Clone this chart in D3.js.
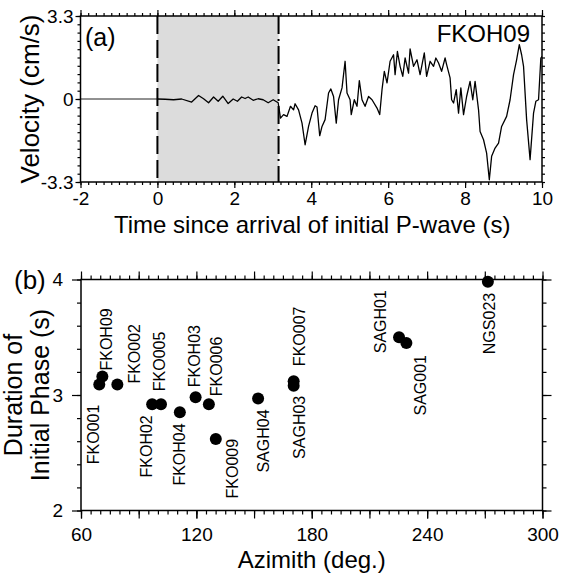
<!DOCTYPE html>
<html>
<head>
<meta charset="utf-8">
<script src="https://cdn.jsdelivr.net/npm/d3@7"></script>
<style>
  body { margin: 0; background: #fff; }
  svg { display: block; font-family: "Liberation Sans", Arial, Helvetica, sans-serif; }
</style>
</head>
<body>
<svg id="chart" width="570" height="576"></svg>
<script>
// ---- panel (a): velocity record ----
const timeS = [-2, 0, 0.2, 0.42, 0.63, 0.89, 1.07, 1.2, 1.33, 1.46, 1.58, 1.7, 1.84, 1.97, 2.08, 2.19, 2.28, 2.36, 2.49, 2.62, 2.75, 2.88, 3.01, 3.14,
  3.2, 3.28, 3.37, 3.46, 3.54, 3.58, 3.67, 3.76, 3.84, 3.93, 4.02, 4.1, 4.15, 4.22, 4.28, 4.36, 4.45, 4.51, 4.58, 4.65, 4.71, 4.8, 4.88, 4.93,
  5.01, 5.04, 5.12, 5.19, 5.25, 5.32, 5.4, 5.49, 5.58, 5.71, 5.78, 5.84, 5.9, 5.97, 6.05, 6.14, 6.18, 6.24, 6.31, 6.38, 6.44, 6.53, 6.57, 6.66,
  6.75, 6.83, 6.94, 7.0, 7.09, 7.18, 7.24, 7.31, 7.39, 7.48, 7.52, 7.61, 7.65, 7.7, 7.77, 7.83, 7.89, 7.96, 8.04, 8.13, 8.2, 8.26, 8.35, 8.39,
  8.48, 8.56, 8.63, 8.69, 8.78, 8.87, 8.95, 9.08, 9.17, 9.26, 9.34, 9.41, 9.47, 9.52, 9.6, 9.69, 9.78, 9.84, 9.91, 9.97, 10.0];
const velocity = [0, 0, -0.01, -0.03, 0.0, -0.12, 0.14, 0.01, -0.15, 0.08, -0.09, 0.11, -0.18, 0.0, -0.09, 0.08, 0.02, 0.08, -0.05, 0.01, -0.03, -0.15, -0.03, -0.15,
  -0.76, -0.62, -0.69, -0.29, -0.43, -0.19, -0.43, -0.96, -1.82, -1.09, -0.56, -0.27, -0.32, -1.46, -1.09, -0.82, 0.24, 0.4, 0.1, -0.96, -0.03, 0.44, 1.5, 0.24,
  -0.03, -0.62, -0.03, -0.29, 0.73, -0.03, -0.29, 0.1, -0.03, -0.36, -0.62, 0.37, 1.1, 0.64, 1.5, 1.76, 0.97, 1.89, 1.3, 0.9, 1.63, 1.03, 1.99, 1.3,
  1.56, 0.97, 1.83, 0.9, 1.5, 1.3, 1.63, 1.43, 1.1, 1.63, 1.37, 0.84, -0.03, -0.16, 0.37, -0.56, 0.44, -0.62, 0.1, 0.7, -0.03, 0.7, -0.43, -1.29,
  -1.62, -2.15, -3.21, -2.28, -1.95, -1.75, -1.09, -0.69, -0.03, 0.97, 1.56, 2.16, 1.76, 1.3, -0.82, -2.41, -0.56, -0.09, -0.03, 1.63, 1.7];
const phaseWindow = [0, 3.15];
const recordStation = "FKOH09";
const timeTicks = [-2, 0, 2, 4, 6, 8, 10];
const velTicks = [-3.3, 0, 3.3];

// ---- panel (b): initial phase duration vs azimuth ----
const stations = ["FKO001", "FKOH09", "FKO002", "FKOH02", "FKO005", "FKOH04", "FKOH03", "FKO006", "FKO009",
  "SAGH04", "SAGH03", "FKO007", "SAGH01", "SAG001", "NGS023"];
const azimuth = [69.5, 71.1, 78.9, 97.0, 101.6, 111.4, 119.6, 126.5, 130.1, 152.1, 170.6, 170.6, 225.4, 229.2, 271.6];
const duration = [3.09, 3.16, 3.09, 2.92, 2.92, 2.85, 2.98, 2.92, 2.62, 2.97, 3.08, 3.12, 3.50, 3.45, 3.98];
const azTicks = [60, 120, 180, 240, 300];
const durTicks = [2, 3, 4];

// label placement next to each dot: [dx, dy, anchor]
const labelPos = [[0, 20, "end"], [10, -6, "start"], [23, -1, "start"], [0, 11, "end"], [4, -13, "start"],
  [5, 11, "end"], [4, -10, "start"], [13, -8, "start"], [22, 0, "end"], [11, 11, "end"],
  [11, 10, "end"], [11, -15, "start"], [-13, 16, "start"], [20, 12, "end"], [7, 11, "end"]];

const svg = d3.select("#chart");
const font = 19;
const plain = d => String(d); // keep ASCII hyphen for negatives, as in the figure

function drawAxis(g, axisFn, scale, values, size, pad, withLabels) {
  g.call(axisFn(scale).tickValues(values).tickSize(size).tickSizeOuter(0).tickPadding(pad)
    .tickFormat(withLabels ? plain : ""));
  g.select(".domain").remove();
  g.selectAll("line").attr("stroke", "#000").attr("stroke-width", 1.2);
  g.selectAll("text").attr("font-size", font).attr("fill", "#000")
    .attr("font-family", "Liberation Sans, Arial, sans-serif");
}

function range(a, b, step) {
  const out = [];
  const n = Math.round((b - a) / step);
  for (let i = 0; i <= n; i++) out.push(+(a + i * step).toFixed(4));
  return out;
}

// ================= PANEL (a) =================
const A = { left: 80.5, right: 542, top: 16, bottom: 182 };
const xa = d3.scaleLinear().domain([-2, 10]).range([A.left, A.right]);
const ya = d3.scaleLinear().domain([-3.3, 3.3]).range([A.bottom, A.top]);

const ga = svg.append("g");
ga.append("defs").append("clipPath").attr("id", "clipA")
  .append("rect").attr("x", A.left).attr("y", A.top)
  .attr("width", A.right - A.left).attr("height", A.bottom - A.top);

ga.append("rect")
  .attr("x", xa(phaseWindow[0])).attr("y", A.top)
  .attr("width", xa(phaseWindow[1]) - xa(phaseWindow[0])).attr("height", A.bottom - A.top)
  .attr("fill", "#dcdcdc");

const trace = timeS.map((t, i) => [t, velocity[i]]);
const line = d3.line().x(d => xa(d[0])).y(d => ya(d[1]));
// pre-arrival part drawn thinner, as in the figure
ga.append("path")
  .datum(trace.filter(d => d[0] <= 0))
  .attr("fill", "none").attr("stroke", "#222").attr("stroke-width", 1)
  .attr("d", line);
ga.append("path")
  .datum(trace.filter(d => d[0] >= 0))
  .attr("clip-path", "url(#clipA)")
  .attr("fill", "none").attr("stroke", "#000").attr("stroke-width", 1.3)
  .attr("stroke-linejoin", "round")
  .attr("d", line);

ga.selectAll("line.win")
  .data(phaseWindow)
  .join("line")
  .attr("class", "win")
  .attr("x1", d => xa(d)).attr("x2", d => xa(d))
  .attr("y1", A.top).attr("y2", A.bottom)
  .attr("stroke", "#000").attr("stroke-width", 2)
  .attr("stroke-dasharray", (d, i) => i === 0 ? "18,6" : "18,5,2,5");

const minorT = range(-2, 10, 0.2), minorV = range(-3.3, 3.3, 0.33);
drawAxis(ga.append("g").attr("transform", `translate(0,${A.bottom})`), d3.axisBottom, xa, minorT, 3, 0, false);
drawAxis(ga.append("g").attr("transform", `translate(0,${A.bottom})`), d3.axisBottom, xa, timeTicks, 6, 4, true);
drawAxis(ga.append("g").attr("transform", `translate(0,${A.top})`), d3.axisTop, xa, minorT, 3, 0, false);
drawAxis(ga.append("g").attr("transform", `translate(0,${A.top})`), d3.axisTop, xa, timeTicks, 6, 0, false);
drawAxis(ga.append("g").attr("transform", `translate(${A.left},0)`), d3.axisLeft, ya, minorV, 3, 0, false);
drawAxis(ga.append("g").attr("transform", `translate(${A.left},0)`), d3.axisLeft, ya, velTicks, 5, 2, true);
drawAxis(ga.append("g").attr("transform", `translate(${A.right},0)`), d3.axisRight, ya, minorV, 3, 0, false);

ga.append("rect")
  .attr("x", A.left).attr("y", A.top)
  .attr("width", A.right - A.left).attr("height", A.bottom - A.top)
  .attr("fill", "none").attr("stroke", "#000").attr("stroke-width", 1.5);

ga.append("text").attr("x", 85).attr("y", 46).attr("font-size", 25).text("(a)");
ga.append("text").attr("x", 530).attr("y", 42).attr("font-size", 24)
  .attr("text-anchor", "end").text(recordStation);
ga.append("text")
  .attr("transform", `translate(39,${(A.top + A.bottom) / 2}) rotate(-90)`)
  .attr("text-anchor", "middle").attr("font-size", 26).text("Velocity (cm/s)");
ga.append("text").attr("x", (A.left + A.right) / 2 + 1).attr("y", 233)
  .attr("text-anchor", "middle").attr("font-size", 24)
  .text("Time since arrival of initial P-wave (s)");

// ================= PANEL (b) =================
const B = { left: 81, right: 542.5, top: 279.5, bottom: 510.5 };
const xb = d3.scaleLinear().domain([60, 300]).range([B.left, B.right]);
const yb = d3.scaleLinear().domain([2, 4]).range([B.bottom, B.top]);

const gb = svg.append("g");
const minorAz = range(60, 300, 5), midAz = range(60, 300, 30), minorD = range(2, 4, 0.2);
drawAxis(gb.append("g").attr("transform", `translate(0,${B.bottom})`), d3.axisBottom, xb, minorAz, 4, 0, false);
drawAxis(gb.append("g").attr("transform", `translate(0,${B.bottom})`), d3.axisBottom, xb, midAz, 8, 0, false);
drawAxis(gb.append("g").attr("transform", `translate(0,${B.bottom})`), d3.axisBottom, xb, azTicks, 8, 9, true);
drawAxis(gb.append("g").attr("transform", `translate(0,${B.top})`), d3.axisTop, xb, minorAz, 4, 0, false);
drawAxis(gb.append("g").attr("transform", `translate(0,${B.top})`), d3.axisTop, xb, midAz, 8, 0, false);
drawAxis(gb.append("g").attr("transform", `translate(${B.left},0)`), d3.axisLeft, yb, minorD, 4, 0, false);
drawAxis(gb.append("g").attr("transform", `translate(${B.left},0)`), d3.axisLeft, yb, durTicks, 9, 9, true);
drawAxis(gb.append("g").attr("transform", `translate(${B.right},0)`), d3.axisRight, yb, minorD, 4, 0, false);
drawAxis(gb.append("g").attr("transform", `translate(${B.right},0)`), d3.axisRight, yb, durTicks, 9, 0, false);

gb.append("rect")
  .attr("x", B.left).attr("y", B.top)
  .attr("width", B.right - B.left).attr("height", B.bottom - B.top)
  .attr("fill", "none").attr("stroke", "#000").attr("stroke-width", 1.5);

const pts = stations.map((s, i) => ({ name: s, az: azimuth[i], dur: duration[i], lp: labelPos[i] }));

gb.selectAll("circle.st")
  .data(pts)
  .join("circle")
  .attr("class", "st")
  .attr("cx", d => xb(d.az)).attr("cy", d => yb(d.dur))
  .attr("r", 6).attr("fill", "#000");

gb.selectAll("text.st")
  .data(pts)
  .join("text")
  .attr("class", "st")
  .attr("transform", d => `translate(${xb(d.az) + d.lp[0]},${yb(d.dur) + d.lp[1]}) rotate(-90)`)
  .attr("text-anchor", d => d.lp[2])
  .attr("font-size", 16)
  .text(d => d.name);

gb.append("text").attr("x", 14).attr("y", 289).attr("font-size", 26).text("(b)");
const yTitle = gb.append("text")
  .attr("transform", `translate(0,${(B.top + B.bottom) / 2}) rotate(-90)`)
  .attr("text-anchor", "middle").attr("font-size", 25);
yTitle.append("tspan").attr("x", 0).attr("y", 22).text("Duration of");
yTitle.append("tspan").attr("x", 0).attr("y", 49).text("Initial Phase (s)");
gb.append("text").attr("x", (B.left + B.right) / 2).attr("y", 568)
  .attr("text-anchor", "middle").attr("font-size", 24).text("Azimith (deg.)");
</script>
</body>
</html>
